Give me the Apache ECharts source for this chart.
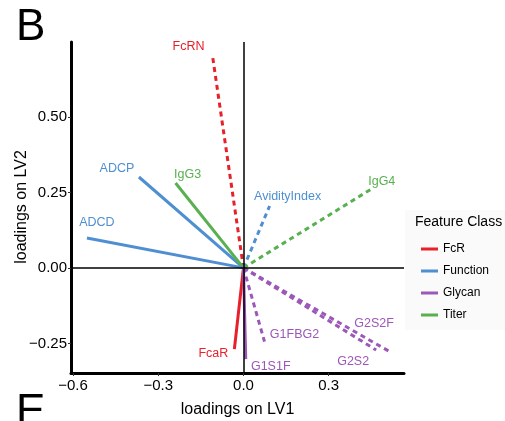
<!DOCTYPE html>
<html>
<head>
<meta charset="utf-8">
<script src="https://cdn.jsdelivr.net/npm/echarts@6/dist/echarts.min.js"></script>
<style>
html,body{margin:0;padding:0;background:#fff;}
#main{width:505px;height:421px;}
</style>
</head>
<body>
<div id="main"></div>
<script>
// loadings data
var features = ['FcRN','ADCP','IgG3','ADCD','AvidityIndex','IgG4','FcaR','G1S1F','G1FBG2','G2S2F','G2S2'];
var featureClass = ['FcR','Function','Titer','Function','Function','Titer','FcR','Glycan','Glycan','Glycan','Glycan'];
var lv1 = [-0.109,-0.368,-0.239,-0.551,0.092,0.448,-0.032,0.008,0.074,0.516,0.467];
var lv2 = [0.702,0.301,0.281,0.099,0.205,0.260,-0.269,-0.302,-0.244,-0.278,-0.272];
var dashedFeatures = ['FcRN','AvidityIndex','IgG4','G1FBG2','G2S2F','G2S2'];
var classNames = ['FcR','Function','Glycan','Titer'];
var xTicks = [-0.6,-0.3,0,0.3];
var yTicks = [-0.25,0,0.25,0.5];

var classColors = {FcR:'#e8202a', Function:'#4f8fd1', Glycan:'#9c58b8', Titer:'#58b04f'};
var labelOffset = {
    FcRN:[-24,-9], ADCP:[-22,-8], IgG3:[12,-8], ADCD:[10,-15],
    AvidityIndex:[18,-9], IgG4:[11,-8], FcaR:[-21,4], G1S1F:[25,7],
    G1FBG2:[30,-7], G2S2F:[-16,-28], G2S2:[-23,11]
};
var FONT = 'Liberation Sans';

var chart = echarts.init(document.getElementById('main'));

function fmtX(v){
    return (v < 0 ? '\u2212' : '') + Math.abs(v).toFixed(1);
}
function fmtY(v){
    return (v < 0 ? '\u2212' : '') + Math.abs(v).toFixed(2);
}

var series = [];
// reference lines at zero
series.push({
    type:'line',
    data:[],
    silent:true,
    markLine:{
        symbol:'none',
        silent:true,
        label:{show:false},
        lineStyle:{color:'#000',width:1.5,type:'solid'},
        data:[{xAxis:0},{yAxis:0}]
    }
});

features.forEach(function (f, i) {
    var c = classColors[featureClass[i]];
    series.push({
        name: featureClass[i],
        type:'line',
        symbol:'circle',
        symbolSize:0,
        showSymbol:true,
        z:3,
        lineStyle:{
            color:c,
            width:3,
            type: dashedFeatures.indexOf(f) >= 0 ? [5,4] : 'solid'
        },
        itemStyle:{color:c},
        data:[
            [0,0],
            {
                value:[lv1[i], lv2[i]],
                label:{
                    show:true,
                    formatter:f,
                    position:'inside',
                    offset:labelOffset[f],
                    color:c,
                    fontSize:12.5,
                    fontFamily:FONT
                }
            }
        ]
    });
});

var option = {
    animation:false,
    backgroundColor:'#fff',
    textStyle:{fontFamily:FONT},
    grid:{left:71,top:42,right:101,bottom:48,outerBoundsMode:'none'},
    xAxis:{
        type:'value',
        min:-0.607,
        max:0.565,
        splitLine:{show:false},
        axisLine:{onZero:false,lineStyle:{color:'#000',width:3}},
        axisTick:{customValues:xTicks,length:3,lineStyle:{color:'#333',width:1}},
        axisLabel:{customValues:xTicks,formatter:fmtX,color:'#000',fontSize:15,margin:5,fontFamily:FONT},
        name:'loadings on LV1',
        nameLocation:'middle',
        nameGap:29,
        nameTextStyle:{color:'#000',fontSize:16,fontFamily:FONT}
    },
    yAxis:{
        type:'value',
        min:-0.348,
        max:0.748,
        splitLine:{show:false},
        axisLine:{onZero:false,lineStyle:{color:'#000',width:3}},
        axisTick:{customValues:yTicks,length:3,lineStyle:{color:'#333',width:1}},
        axisLabel:{customValues:yTicks,formatter:fmtY,color:'#000',fontSize:15,margin:4,fontFamily:FONT}
    },
    legend:{
        data:classNames,
        orient:'vertical',
        left:416,
        top:238,
        icon:'rect',
        itemWidth:17,
        itemHeight:3,
        itemGap:10,
        textStyle:{color:'#000',fontSize:12,fontFamily:FONT}
    },
    graphic:[
        {type:'rect',left:405,top:210,z:-1,shape:{width:100,height:120},style:{fill:'#fafafa'}},
        {type:'text',left:415,top:215,style:{text:'Feature Class',fontSize:14,fill:'#000',fontFamily:FONT}},
        {type:'text',x:22,y:207,rotation:Math.PI/2,style:{text:'loadings on LV2',fontSize:16,fill:'#000',fontFamily:FONT,align:'center',verticalAlign:'middle'}},
        {type:'text',left:16,top:6,style:{text:'B',fontSize:44,fill:'#000',fontFamily:FONT}},
        {type:'text',left:16,top:391,style:{text:'E',fontSize:44,fill:'#000',fontFamily:FONT}}
    ],
    series:series
};

chart.setOption(option);
window.addEventListener('resize', function () { chart.resize(); });
</script>
</body>
</html>
